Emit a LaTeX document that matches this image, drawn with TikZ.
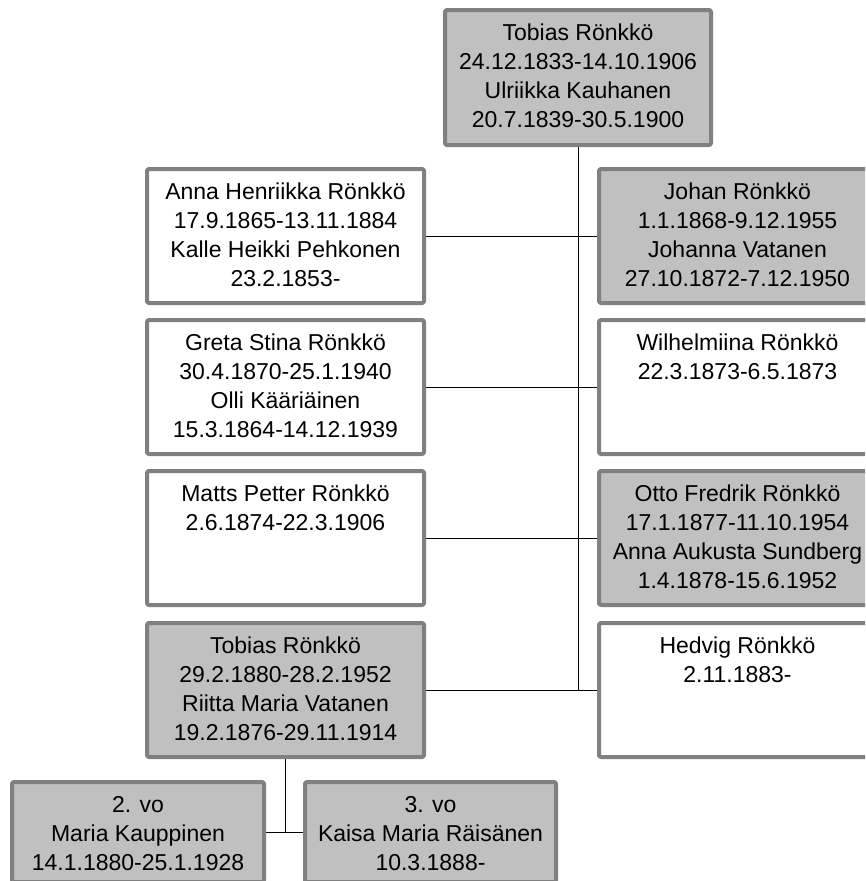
\documentclass[tikz,border=0pt]{standalone}
\usepackage{fontspec}
\setmainfont{Liberation Sans}
\usetikzlibrary{backgrounds}
\definecolor{framegray}{RGB}{128,128,128}
\definecolor{fillgray}{RGB}{192,192,192}
\newcommand{\perstext}[3]{\parbox[c][#2pt][t]{#1pt}{\centering\rule{0pt}{30pt}#3}}
\tikzset{person/.style={draw=framegray,line width=4pt,rounded corners=2pt,fill=white,inner sep=0pt,outer sep=0pt},
  kin/.style={person,fill=fillgray}}
\begin{document}
\begin{tikzpicture}[x=1pt,y=-1pt,font=\fontsize{23}{29}\selectfont,line join=round]
\useasboundingbox (0,0) rectangle (865,881);
\clip (0,0) rectangle (865,881);
\def\lx{285.5}\def\rx{737.5}\def\bw{277}\def\bh{134}
\node[kin] (tob1) at (578,77.5) {\perstext{266}{135}{Tobias Rönkkö\\24.12.1833-14.10.1906\\Ulriikka Kauhanen\\20.7.1839-30.5.1900}};
\node[person] (anna) at (\lx,236) {\perstext{\bw}{\bh}{Anna Henriikka Rönkkö\\17.9.1865-13.11.1884\\Kalle Heikki Pehkonen\\23.2.1853-}};
\node[kin] (johan) at (\rx,236) {\perstext{\bw}{\bh}{Johan Rönkkö\\1.1.1868-9.12.1955\\Johanna Vatanen\\27.10.1872-7.12.1950}};
\node[person] (greta) at (\lx,387) {\perstext{\bw}{\bh}{Greta Stina Rönkkö\\30.4.1870-25.1.1940\\Olli Kääriäinen\\15.3.1864-14.12.1939}};
\node[person] (wilh) at (\rx,387) {\perstext{\bw}{\bh}{Wilhelmiina Rönkkö\\22.3.1873-6.5.1873}};
\node[person] (matts) at (\lx,538) {\perstext{\bw}{\bh}{Matts Petter Rönkkö\\2.6.1874-22.3.1906}};
\node[kin] (otto) at (\rx,538) {\perstext{\bw}{\bh}{Otto Fredrik Rönkkö\\17.1.1877-11.10.1954\\Anna Aukusta Sundberg\\1.4.1878-15.6.1952}};
\node[kin] (tob2) at (\lx,690) {\perstext{\bw}{\bh}{Tobias Rönkkö\\29.2.1880-28.2.1952\\Riitta Maria Vatanen\\19.2.1876-29.11.1914}};
\node[person] (hedvig) at (\rx,690) {\perstext{\bw}{\bh}{Hedvig Rönkkö\\2.11.1883-}};
\node[kin] (vo2) at (138,832) {\perstext{252}{100}{2. vo\\Maria Kauppinen\\14.1.1880-25.1.1928}};
\node[kin] (vo3) at (430.5,832) {\perstext{251}{100}{3. vo\\Kaisa Maria Räisänen\\10.3.1888-}};
\begin{scope}[on background layer,line width=1.8pt]
\coordinate (trunk) at (tob1.south |- tob2.east);
\draw (tob1.south) -- (trunk);
\draw (anna.east) -- (johan.west) (greta.east) -- (wilh.west)
      (matts.east) -- (otto.west) (tob2.east) -- (hedvig.west);
\draw (tob2.south) -- (tob2.south |- vo2.east) coordinate (fork);
\draw (vo2.east) -- (vo3.west);
\end{scope}
\end{tikzpicture}
\end{document}
